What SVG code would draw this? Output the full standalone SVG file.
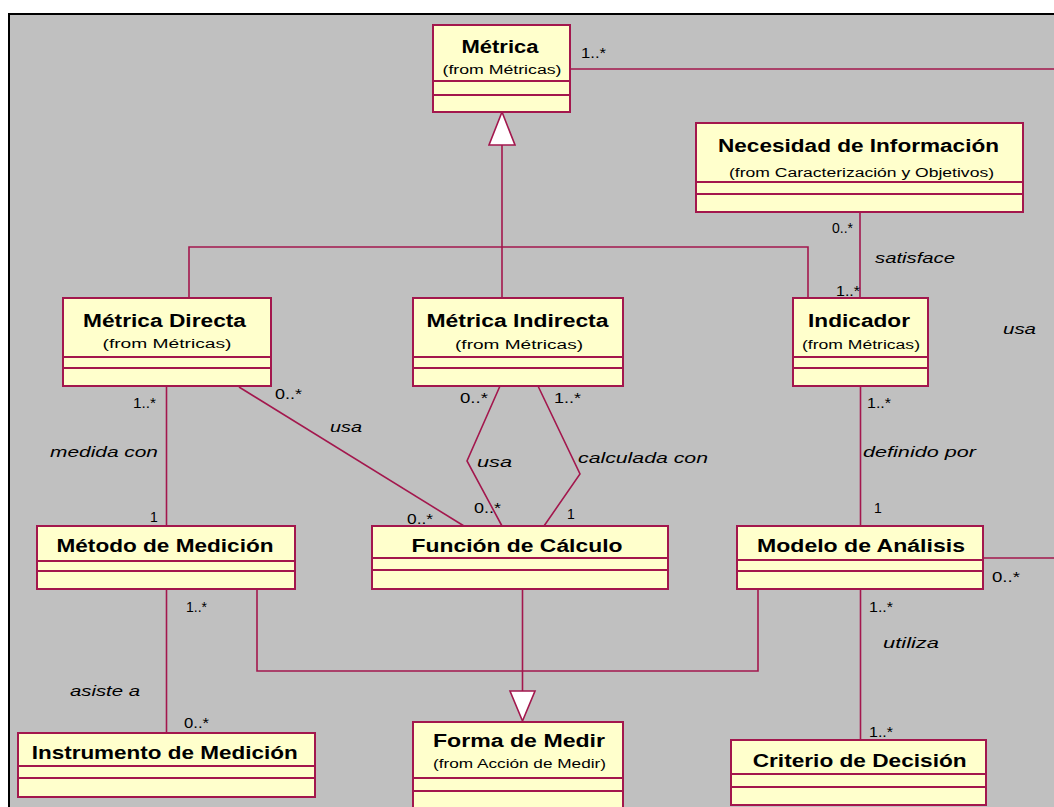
<svg xmlns="http://www.w3.org/2000/svg" width="1054" height="807" viewBox="0 0 1054 807">
<style>
.box{fill:#FFFFCC;stroke:#A3174D;stroke-width:2}
.sep{stroke:#A3174D;stroke-width:2}
.c{fill:none;stroke:#A3174D;stroke-width:1.6}
.tri{fill:#FFFFFF;stroke:#A3174D;stroke-width:1.6}
.t{font-family:"Liberation Sans",Arial,sans-serif;font-weight:bold;font-size:18px;text-anchor:middle;fill:#000}
.f{font-family:"Liberation Sans",Arial,sans-serif;font-size:12px;text-anchor:middle;fill:#000}
.l{font-family:"Liberation Sans",Arial,sans-serif;font-style:italic;font-size:14px;fill:#000}
.m{font-family:"Liberation Sans",Arial,sans-serif;font-size:14px;fill:#000}
</style>
<rect x="0" y="0" width="1054" height="807" fill="#FFFFFF"/>
<rect x="9" y="14" width="1100" height="900" fill="#C0C0C0" stroke="#000000" stroke-width="2"/>

<g id="connectors">
  <line class="c" x1="570" y1="69" x2="1060" y2="69"/>
  <path class="c" d="M502,145 V298 M189,298 V247 H808 V298"/>
  <polygon class="tri" points="502,112 489,145 515,145"/>
  <line class="c" x1="860" y1="212" x2="860" y2="298"/>
  <line class="c" x1="860.5" y1="386" x2="860.5" y2="526"/>
  <line class="c" x1="860.5" y1="589" x2="860.5" y2="740"/>
  <line class="c" x1="983" y1="558" x2="1060" y2="558"/>
  <line class="c" x1="166.5" y1="386" x2="166.5" y2="526"/>
  <line class="c" x1="166.5" y1="589" x2="166.5" y2="733"/>
  <line class="c" x1="239" y1="387" x2="464" y2="526"/>
  <polyline class="c" points="500,386 467,461 502,526"/>
  <polyline class="c" points="538,386 580,474 544,526"/>
  <polyline class="c" points="257,589 257,671 758,671 758,589"/>
  <line class="c" x1="522.5" y1="589" x2="522.5" y2="691"/>
  <polygon class="tri" points="522.5,721 510,691 535,691"/>

  <text class="m" x="581" y="58" textLength="25" lengthAdjust="spacingAndGlyphs">1..*</text>
  <text class="m" x="832" y="233" textLength="21" lengthAdjust="spacingAndGlyphs">0..*</text>
  <text class="l" x="875" y="263" textLength="80" lengthAdjust="spacingAndGlyphs">satisface</text>
  <text class="m" x="836" y="296" textLength="24" lengthAdjust="spacingAndGlyphs">1..*</text>
  <text class="l" x="1003" y="334" textLength="33" lengthAdjust="spacingAndGlyphs">usa</text>
  <text class="m" x="867" y="407.5" textLength="24" lengthAdjust="spacingAndGlyphs">1..*</text>
  <text class="l" x="863" y="456.5" textLength="113" lengthAdjust="spacingAndGlyphs">definido por</text>
  <text class="m" x="874" y="513">1</text>
  <text class="m" x="992" y="581.5" textLength="28" lengthAdjust="spacingAndGlyphs">0..*</text>
  <text class="m" x="869" y="611.5" textLength="24" lengthAdjust="spacingAndGlyphs">1..*</text>
  <text class="l" x="883" y="648" textLength="56" lengthAdjust="spacingAndGlyphs">utiliza</text>
  <text class="m" x="869" y="736.5" textLength="24" lengthAdjust="spacingAndGlyphs">1..*</text>
  <text class="m" x="133" y="407.5" textLength="23" lengthAdjust="spacingAndGlyphs">1..*</text>
  <text class="m" x="275" y="399" textLength="27" lengthAdjust="spacingAndGlyphs">0..*</text>
  <text class="l" x="50" y="457" textLength="108" lengthAdjust="spacingAndGlyphs">medida con</text>
  <text class="l" x="330" y="431.5" textLength="32" lengthAdjust="spacingAndGlyphs">usa</text>
  <text class="m" x="150" y="522">1</text>
  <text class="m" x="407" y="524" textLength="26" lengthAdjust="spacingAndGlyphs">0..*</text>
  <text class="m" x="460" y="403" textLength="28" lengthAdjust="spacingAndGlyphs">0..*</text>
  <text class="m" x="554" y="403" textLength="27" lengthAdjust="spacingAndGlyphs">1..*</text>
  <text class="l" x="477" y="466.5" textLength="35" lengthAdjust="spacingAndGlyphs">usa</text>
  <text class="l" x="578" y="463" textLength="130" lengthAdjust="spacingAndGlyphs">calculada con</text>
  <text class="m" x="474" y="512.5" textLength="27" lengthAdjust="spacingAndGlyphs">0..*</text>
  <text class="m" x="567" y="519">1</text>
  <text class="m" x="186" y="611.5" textLength="21" lengthAdjust="spacingAndGlyphs">1..*</text>
  <text class="l" x="70" y="696" textLength="70" lengthAdjust="spacingAndGlyphs">asiste a</text>
  <text class="m" x="184" y="728" textLength="25" lengthAdjust="spacingAndGlyphs">0..*</text>
</g>

<g id="metrica">
  <rect class="box" x="433" y="25" width="137" height="87"/>
  <line class="sep" x1="433" y1="81" x2="570" y2="81"/>
  <line class="sep" x1="433" y1="95" x2="570" y2="95"/>
  <text class="t" x="500" y="53" textLength="77" lengthAdjust="spacingAndGlyphs">Métrica</text>
  <text class="f" x="502" y="74" textLength="119" lengthAdjust="spacingAndGlyphs">(from Métricas)</text>
</g>

<g id="necesidad">
  <rect class="box" x="696" y="123" width="327" height="89"/>
  <line class="sep" x1="696" y1="182" x2="1023" y2="182"/>
  <line class="sep" x1="696" y1="194" x2="1023" y2="194"/>
  <text class="t" x="858.5" y="151.5" textLength="281" lengthAdjust="spacingAndGlyphs">Necesidad de Información</text>
  <text class="f" x="861.5" y="177" textLength="265" lengthAdjust="spacingAndGlyphs">(from Caracterización y Objetivos)</text>
</g>

<g id="metrica-directa">
  <rect class="box" x="63" y="298" width="208" height="88"/>
  <line class="sep" x1="63" y1="357" x2="271" y2="357"/>
  <line class="sep" x1="63" y1="368" x2="271" y2="368"/>
  <text class="t" x="164.5" y="327" textLength="163" lengthAdjust="spacingAndGlyphs">Métrica Directa</text>
  <text class="f" x="167" y="348" textLength="129" lengthAdjust="spacingAndGlyphs">(from Métricas)</text>
</g>

<g id="metrica-indirecta">
  <rect class="box" x="413" y="298" width="210" height="88"/>
  <line class="sep" x1="413" y1="357" x2="623" y2="357"/>
  <line class="sep" x1="413" y1="368" x2="623" y2="368"/>
  <text class="t" x="517.5" y="326.5" textLength="182" lengthAdjust="spacingAndGlyphs">Métrica Indirecta</text>
  <text class="f" x="519" y="348.5" textLength="128" lengthAdjust="spacingAndGlyphs">(from Métricas)</text>
</g>

<g id="indicador">
  <rect class="box" x="793" y="298" width="135" height="88"/>
  <line class="sep" x1="793" y1="357" x2="928" y2="357"/>
  <line class="sep" x1="793" y1="368" x2="928" y2="368"/>
  <text class="t" x="859" y="326.5" textLength="102" lengthAdjust="spacingAndGlyphs">Indicador</text>
  <text class="f" x="861" y="349" textLength="118" lengthAdjust="spacingAndGlyphs">(from Métricas)</text>
</g>

<g id="metodo-medicion">
  <rect class="box" x="37" y="526" width="258" height="63"/>
  <line class="sep" x1="37" y1="561" x2="295" y2="561"/>
  <line class="sep" x1="37" y1="571" x2="295" y2="571"/>
  <text class="t" x="165" y="551.5" textLength="217" lengthAdjust="spacingAndGlyphs">Método de Medición</text>
</g>

<g id="funcion-calculo">
  <rect class="box" x="372" y="526" width="296" height="63"/>
  <line class="sep" x1="372" y1="558" x2="668" y2="558"/>
  <line class="sep" x1="372" y1="570" x2="668" y2="570"/>
  <text class="t" x="517" y="551.5" textLength="211" lengthAdjust="spacingAndGlyphs">Función de Cálculo</text>
</g>

<g id="modelo-analisis">
  <rect class="box" x="737" y="526" width="246" height="63"/>
  <line class="sep" x1="737" y1="560" x2="983" y2="560"/>
  <line class="sep" x1="737" y1="571" x2="983" y2="571"/>
  <text class="t" x="861" y="551.5" textLength="208" lengthAdjust="spacingAndGlyphs">Modelo de Análisis</text>
</g>

<g id="instrumento-medicion">
  <rect class="box" x="18" y="733" width="297" height="64"/>
  <line class="sep" x1="18" y1="766" x2="315" y2="766"/>
  <line class="sep" x1="18" y1="778" x2="315" y2="778"/>
  <text class="t" x="164.7" y="759" textLength="266" lengthAdjust="spacingAndGlyphs">Instrumento de Medición</text>
</g>

<g id="forma-medir">
  <rect class="box" x="413" y="722" width="210" height="100"/>
  <line class="sep" x1="413" y1="778" x2="623" y2="778"/>
  <line class="sep" x1="413" y1="791" x2="623" y2="791"/>
  <text class="t" x="519" y="746.5" textLength="172" lengthAdjust="spacingAndGlyphs">Forma de Medir</text>
  <text class="f" x="519.5" y="767.5" textLength="173" lengthAdjust="spacingAndGlyphs">(from Acción de Medir)</text>
</g>

<g id="criterio-decision">
  <rect class="box" x="731" y="740" width="255" height="65"/>
  <line class="sep" x1="731" y1="774" x2="986" y2="774"/>
  <line class="sep" x1="731" y1="787" x2="986" y2="787"/>
  <text class="t" x="859.7" y="767" textLength="214" lengthAdjust="spacingAndGlyphs">Criterio de Decisión</text>
</g>
</svg>
